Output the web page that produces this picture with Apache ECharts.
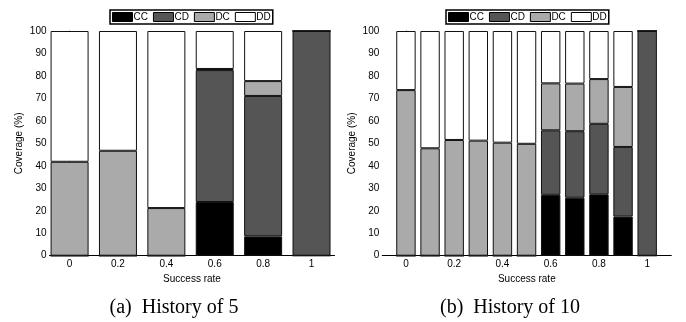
<!DOCTYPE html>
<html>
<head>
<meta charset="utf-8">
<script src="https://cdn.jsdelivr.net/npm/echarts@6/dist/echarts.min.js"></script>
<style>
  html, body { margin: 0; padding: 0; background: #fff; }
  #main { width: 686px; height: 322px; }
</style>
</head>
<body>
<div id="main"></div>
<script>
// history of 5
const rates5 = [0, 0.2, 0.4, 0.6, 0.8, 1];
const cc5 = [0, 0, 0, 23.9, 8.6, 0];
const cd5 = [0, 0, 0, 58.7, 62.5, 100];
const dc5 = [41.8, 46.7, 21.2, 0.5, 6.6, 0];
const dd5 = [58.2, 53.3, 78.8, 16.9, 22.3, 0];

// history of 10
const rates10 = [0, 0.1, 0.2, 0.3, 0.4, 0.5, 0.6, 0.7, 0.8, 0.9, 1];
const cc10 = [0, 0, 0, 0, 0, 0, 27.1, 25.8, 27.3, 17.4, 0];
const cd10 = [0, 0, 0, 0, 0, 0, 28.7, 29.6, 31.4, 31.0, 100];
const dc10 = [73.7, 47.8, 51.5, 51.2, 50.3, 49.8, 20.9, 21.2, 19.9, 26.7, 0];
const dd10 = [26.3, 52.2, 48.5, 48.8, 49.7, 50.2, 23.3, 23.4, 21.4, 24.9, 0];

const tickRates = [0, 0.2, 0.4, 0.6, 0.8, 1];
const stateNames = ['CC', 'CD', 'DC', 'DD'];
const stateColors = ['#000000', '#555555', '#aaaaaa', '#ffffff'];

const chart = echarts.init(document.getElementById('main'));
const font = 'Liberation Sans, Arial, sans-serif';
const serif = '20px "Liberation Serif", "Times New Roman", serif';

// coverage first so the stack goes on the y value, rate second
function pairs(xs, ys) {
  return xs.map((x, i) => [ys[i], x]);
}

function xAxisFor(idx, min, max) {
  return {
    type: 'value', gridIndex: idx, min: min, max: max,
    name: 'Success rate', nameLocation: 'middle', nameGap: 15,
    nameTextStyle: { fontSize: 10, fontFamily: font, color: '#000' },
    axisLine: { lineStyle: { color: '#000', width: 1 } },
    axisTick: { show: false },
    splitLine: { show: false },
    axisLabel: { customValues: tickRates, fontSize: 10, fontFamily: font, color: '#000', margin: 4 }
  };
}

function yAxisFor(idx) {
  return {
    type: 'value', gridIndex: idx, min: 0, max: 100, interval: 10,
    name: 'Coverage (%)', nameLocation: 'middle', nameGap: 25,
    nameTextStyle: { fontSize: 10, fontFamily: font, color: '#000' },
    axisLine: { show: true, lineStyle: { color: '#666', width: 1 } },
    axisTick: { show: true, inside: true, length: 3, lineStyle: { color: '#333' } },
    splitLine: { show: false },
    axisLabel: { fontSize: 10, fontFamily: font, color: '#000', margin: 3 }
  };
}

function seriesFor(idx, xs, lists, width) {
  return lists.map((vals, k) => ({
    name: stateNames[k], type: 'bar', stack: 'h' + idx,
    xAxisIndex: idx, yAxisIndex: idx, barWidth: width,
    dimensions: ['cov', 'rate'],
    encode: { x: 'rate', y: 'cov' },
    data: pairs(xs, vals),
    itemStyle: { color: stateColors[k], borderColor: '#111', borderWidth: 1 },
    emphasis: { disabled: true }
  }));
}

function legendFor(left) {
  return {
    left: left, top: 10, orient: 'horizontal',
    data: stateNames, icon: 'rect', itemWidth: 20, itemHeight: 9, itemGap: 5,
    padding: [2, 2], borderColor: '#000', borderWidth: 1.5,
    itemStyle: { borderColor: '#000', borderWidth: 1 },
    textStyle: { fontSize: 10, fontFamily: font, color: '#000', padding: [0, 0, 0, -4] },
    selectedMode: false
  };
}

chart.setOption({
  animation: false,
  backgroundColor: '#fff',
  legend: [legendFor(110), legendFor(446)],
  grid: [
    { left: 49.5, top: 31, width: 285, height: 224.7 },
    { left: 382.3, top: 31, width: 289, height: 224.7 }
  ],
  xAxis: [xAxisFor(0, -0.083, 1.095), xAxisFor(1, -0.098, 1.1)],
  yAxis: [yAxisFor(0), yAxisFor(1)],
  series: [].concat(
    seriesFor(0, rates5, [cc5, cd5, dc5, dd5], 38),
    seriesFor(1, rates10, [cc10, cd10, dc10, dd10], 19.4)
  ),
  graphic: [
    { type: 'text', x: 174, y: 308,
      style: { text: '(a)  History of 5', font: serif, fill: '#000', align: 'center', verticalAlign: 'middle' } },
    { type: 'text', x: 510, y: 308,
      style: { text: '(b)  History of 10', font: serif, fill: '#000', align: 'center', verticalAlign: 'middle' } }
  ]
});
</script>
</body>
</html>
